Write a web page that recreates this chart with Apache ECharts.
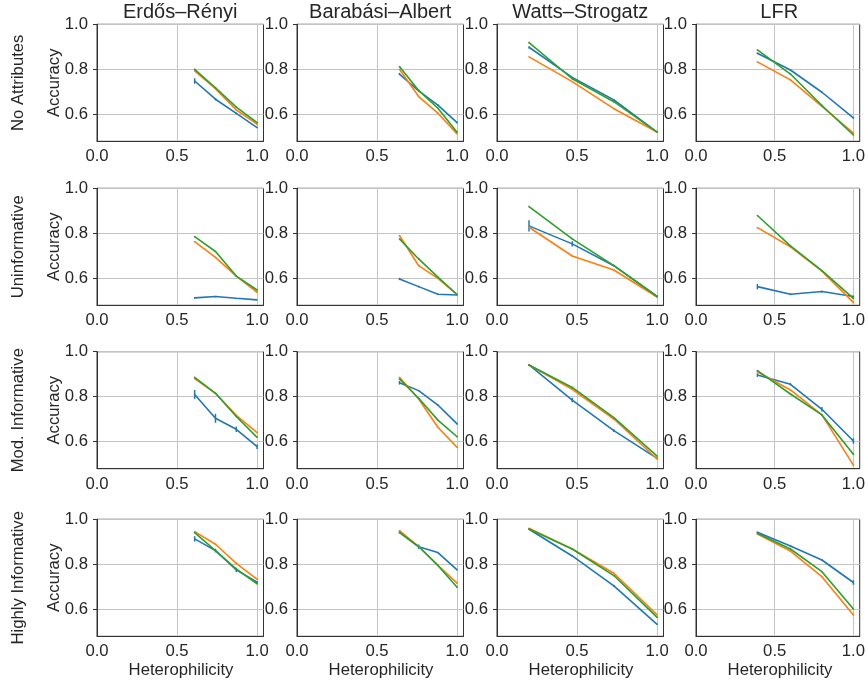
<!DOCTYPE html>
<html>
<head>
<meta charset="utf-8">
<script src="https://cdn.jsdelivr.net/npm/echarts@6/dist/echarts.min.js"></script>
<style>html,body{margin:0;padding:0;background:#fff}#c{width:868px;height:683px}</style>
</head>
<body>
<div id="c"></div>
<script>
// ---- data ----
const datasets = ['Erdős–Rényi', 'Barabási–Albert', 'Watts–Strogatz', 'LFR'];
const settings = ['No Attributes', 'Uninformative', 'Mod. Informative', 'Highly Informative'];
const methods = ['Method 1', 'Method 2', 'Method 3'];
const hetER = [0.61, 0.74, 0.87, 1.0];
const hetBA = [0.64, 0.76, 0.88, 1.0];
const hetWS = [0.2, 0.47, 0.73, 1.0];
const hetLFR = [0.39, 0.6, 0.8, 1.0];
const xTicks = [0, 0.5, 1.0];
const yTicks = [0.6, 0.8, 1.0];

// values per row: [ER, BA, WS, LFR]
const blueNoAttr   = [[0.748,0.667,0.604,0.541],[0.779,0.704,0.641,0.563],[0.898,0.764,0.664,0.521],[0.871,0.797,0.698,0.584]];
const orangeNoAttr = [[0.793,0.714,0.619,0.556],[0.800,0.679,0.605,0.513],[0.855,0.745,0.625,0.521],[0.833,0.753,0.635,0.516]];
const greenNoAttr  = [[0.800,0.718,0.632,0.563],[0.812,0.706,0.627,0.520],[0.919,0.758,0.656,0.521],[0.886,0.779,0.639,0.508]];

const blueUninf   = [[0.513,0.519,0.511,0.504],[0.597,0.563,0.529,0.526],[0.833,0.753,0.656,0.519],[0.563,0.529,0.541,0.519]];
const orangeUninf = [[0.763,0.693,0.610,0.538],[0.790,0.656,0.600,0.527],[0.827,0.699,0.637,0.517],[0.825,0.740,0.632,0.493]];
const greenUninf  = [[0.785,0.719,0.610,0.548],[0.775,0.686,0.605,0.528],[0.919,0.775,0.656,0.519],[0.879,0.744,0.634,0.511]];

const blueMod   = [[0.810,0.704,0.655,0.578],[0.862,0.827,0.763,0.679],[0.941,0.785,0.649,0.526],[0.896,0.855,0.744,0.603]];
const orangeMod = [[0.881,0.815,0.717,0.640],[0.886,0.790,0.664,0.575],[0.941,0.833,0.701,0.523],[0.911,0.830,0.719,0.496]];
const greenMod  = [[0.886,0.815,0.712,0.619],[0.879,0.793,0.696,0.622],[0.941,0.841,0.707,0.536],[0.916,0.812,0.719,0.544]];

const blueHigh   = [[0.913,0.861,0.775,0.720],[0.942,0.878,0.852,0.775],[0.956,0.837,0.704,0.533],[0.942,0.881,0.819,0.719]];
const orangeHigh = [[0.945,0.889,0.804,0.733],[0.950,0.879,0.795,0.716],[0.960,0.868,0.760,0.575],[0.935,0.859,0.745,0.575]];
const greenHigh  = [[0.941,0.861,0.779,0.713],[0.942,0.879,0.795,0.698],[0.957,0.868,0.750,0.564],[0.938,0.868,0.767,0.601]];

// error bar half-widths
const errBlueNoAttr = [[0.012,0.005,0.004,0.003],[0.005,0.003,0.004,0.004],[0.005,0.003,0.004,0.002],[0.004,0.004,0.003,0.004]];
const errBlueUninf  = [[0.004,0.003,0.002,0.002],[0.005,0.004,0.003,0.002],[0.025,0.012,0.004,0.003],[0.012,0.004,0.004,0.004]];
const errBlueMod    = [[0.020,0.020,0.012,0.010],[0.008,0.003,0.003,0.004],[0.004,0.010,0.006,0.004],[0.008,0.005,0.010,0.012]];
const errBlueHigh   = [[0.012,0.008,0.010,0.006],[0.004,0.010,0.003,0.003],[0.003,0.003,0.004,0.003],[0.004,0.005,0.004,0.010]];
const errOther = [0.003,0.003,0.003,0.003];

// ---- layout ----
const hets = [hetER, hetBA, hetWS, hetLFR];
const rowsData = [
  [blueNoAttr, orangeNoAttr, greenNoAttr, errBlueNoAttr],
  [blueUninf, orangeUninf, greenUninf, errBlueUninf],
  [blueMod, orangeMod, greenMod, errBlueMod],
  [blueHigh, orangeHigh, greenHigh, errBlueHigh]
];
const colors = ['#1f77b4', '#ff7f0e', '#2ca02c'];
const colLeft = [97, 297, 497, 696];
const rowTop = [24.3, 188.3, 351.7, 519.3];
const W = 166.5, H = 117;
const FONT = '"Liberation Sans", Arial, Helvetica, sans-serif';
const TXT = '#262626';
const SPINE = '#333333';
const GRIDC = '#c4c4c4';

const grid = [], xAxis = [], yAxis = [], series = [], graphic = [];
let idx = 0;
for (let r = 0; r < 4; r++) {
  for (let c = 0; c < 4; c++) {
    grid.push({left: colLeft[c], top: rowTop[r], width: W, height: H, show: true,
      borderColor: SPINE, borderWidth: 1, backgroundColor: 'transparent', containLabel: false});
    xAxis.push({type: 'value', gridIndex: idx, min: 0, max: 1.04,
      axisLine: {show: true, onZero: false, lineStyle: {color: SPINE, width: 1}},
      axisTick: {show: false, customValues: xTicks},
      axisLabel: {customValues: xTicks, fontSize: 16.7, color: TXT, fontFamily: FONT, margin: 7,
        formatter: v => v.toFixed(1)},
      splitLine: {show: true, lineStyle: {color: GRIDC, width: 1}}
    });
    yAxis.push({type: 'value', gridIndex: idx, min: 0.48, max: 1.0,
      axisLine: {show: true, onZero: false, lineStyle: {color: SPINE, width: 1}},
      axisTick: {show: true, length: 4, customValues: yTicks, lineStyle: {color: SPINE, width: 1}},
      axisLabel: {customValues: yTicks, fontSize: 16.7, color: TXT, fontFamily: FONT, margin: 9,
        formatter: v => v.toFixed(1)},
      splitLine: {show: true, lineStyle: {color: GRIDC, width: 1}}
    });
    const rd = rowsData[r];
    for (let m = 0; m < 3; m++) {
      const vals = rd[m][c];
      const errs = m === 0 ? rd[3][c] : errOther;
      const pts = hets[c].map((x, i) => [x, vals[i]]);
      series.push({type: 'line', name: methods[m], xAxisIndex: idx, yAxisIndex: idx,
        data: pts, showSymbol: false, symbol: 'none', silent: true, animation: false,
        lineStyle: {color: colors[m], width: 1.6}, itemStyle: {color: colors[m]}, z: 3 + m});
      const col = colors[m];
      series.push({type: 'custom', xAxisIndex: idx, yAxisIndex: idx, silent: true, animation: false,
        data: hets[c].map((x, i) => [x, vals[i], errs[i]]),
        encode: {x: 0, y: 1}, z: 3 + m,
        renderItem: (params, api) => {
          const x = api.value(0), y = api.value(1), e = api.value(2);
          const p1 = api.coord([x, y - e]), p2 = api.coord([x, y + e]);
          return {type: 'line', shape: {x1: p1[0], y1: p1[1], x2: p2[0], y2: p2[1]},
            style: {stroke: col, lineWidth: 1.5}};
        }});
    }
    idx++;
  }
}
// column titles
for (let c = 0; c < 4; c++) {
  graphic.push({type: 'text', x: colLeft[c] + W / 2, y: 12, style: {text: datasets[c], fontSize: 20,
    fontFamily: FONT, fill: TXT, align: 'center', verticalAlign: 'middle'}});
  graphic.push({type: 'text', x: colLeft[c] + 84, y: 670.5, style: {text: 'Heterophilicity', fontSize: 16.7,
    fontFamily: FONT, fill: TXT, align: 'center', verticalAlign: 'middle'}});
}
// row labels + Accuracy
for (let r = 0; r < 4; r++) {
  const cy = rowTop[r] + H / 2;
  graphic.push({type: 'text', x: 18.5, y: cy, rotation: Math.PI / 2, style: {text: settings[r], fontSize: 16.7,
    fontFamily: FONT, fill: TXT, align: 'center', verticalAlign: 'middle'}});
  graphic.push({type: 'text', x: 54, y: cy, rotation: Math.PI / 2, style: {text: 'Accuracy', fontSize: 16.7,
    fontFamily: FONT, fill: TXT, align: 'center', verticalAlign: 'middle'}});
}

const chart = echarts.init(document.getElementById('c'), null, {renderer: 'canvas'});
chart.setOption({animation: false, backgroundColor: '#fff', grid, xAxis, yAxis, series, graphic});
</script>
</body>
</html>
